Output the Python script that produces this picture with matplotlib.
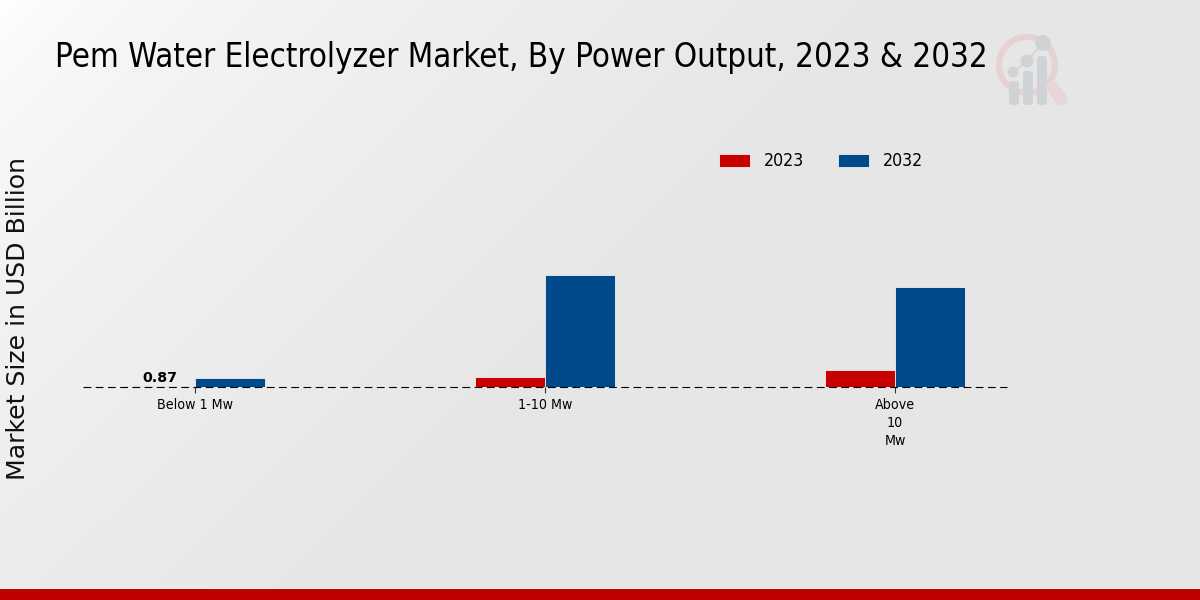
import matplotlib
matplotlib.use("Agg")
import matplotlib.pyplot as plt
import numpy as np
from matplotlib.patches import Circle, Rectangle, FancyBboxPatch

categories = ["Below 1 Mw", "1-10 Mw", "Above\n10\nMw"]
values_2023 = [0.87, 8.7, 14.8]
values_2032 = [7.8, 97.0, 87.0]
years = ["2023", "2032"]
COND = dict(family="DejaVu Sans", stretch="condensed")

fig = plt.figure(figsize=(12, 6), dpi=100)

# background gradient, white in the top left corner
bg = fig.add_axes([0, 0, 1, 1], zorder=0)
bg.set_xlim(0, 1200)
bg.set_ylim(600, 0)
bg.axis("off")
xx, yy = np.meshgrid(np.linspace(0, 1, 300), np.linspace(0, 1, 150))
d = np.clip((xx + yy * 0.5) / 0.75, 0, 1)
shade = 1.0 - 0.1 * d ** 0.55
bg.imshow(shade, cmap="gray", vmin=0, vmax=1, extent=[0, 1200, 600, 0], aspect="auto")
bg.add_patch(Rectangle((0, 589), 1200, 11, color="#bf0000", lw=0))
bg.add_patch(Rectangle((0, 588), 1200, 1, color="#f2f2f2", lw=0))

# logo
bg.add_patch(Circle((1027, 65), 28, fill=False, ec="#e6d2d3", lw=4.5))
bg.plot([1052, 1061], [87, 99], color="#e8d6d7", lw=9, solid_capstyle="round")
for bx, top in [(1014, 81), (1028, 71), (1042, 56)]:
    bg.add_patch(FancyBboxPatch((bx - 5, top), 10, 105 - top, boxstyle="round,pad=0,rounding_size=3",
                                fc="#d0d3d6", ec="none"))
bg.plot([1013, 1027, 1043], [72, 61, 43], color="#d0d3d6", lw=1)
bg.add_patch(Circle((1013, 72), 5.5, fc="#d0d3d6", ec="none"))
bg.add_patch(Circle((1027, 61), 6.5, fc="#d0d3d6", ec="none"))
bg.add_patch(Circle((1043, 43), 8, fc="#d0d3d6", ec="none"))

# plot area 83..1007 px, baseline at y=387
ax = fig.add_axes([83 / 1200, (600 - 387) / 600, 924 / 1200, 257 / 600], zorder=1)
ax.patch.set_alpha(0)
x = np.arange(len(categories))
w = 0.2
ax.bar(x - w / 2, values_2023, w, color="#c80000", edgecolor="#f0f0f0", linewidth=0.6, label=years[0])
ax.bar(x + w / 2, values_2032, w, color="#004a8c", edgecolor="#f0f0f0", linewidth=0.6, label=years[1])
ax.set_xlim(-0.32, 2.32)
ax.set_ylim(0, 222.6)
for s in ax.spines.values():
    s.set_visible(False)
ax.axhline(0, color="black", lw=0.8, ls=(0, (7, 4)), clip_on=False, zorder=5)
ax.set_yticks([])
ax.set_xticks(x)
ax.set_xticklabels(categories, fontsize=10.2, linespacing=1.36, **COND)
ax.tick_params(axis="x", length=4, width=0.8, pad=4, color="#333333")
ax.text(x[0] - w / 2, values_2023[0] + 0.6, "0.87", ha="center", va="bottom",
        fontsize=10.2, fontweight="bold")

leg = ax.legend(loc="upper left", bbox_to_anchor=(0.671, 0.975), ncol=2, frameon=False,
                prop=dict(size=12.7, **COND), handlelength=1.76, handleheight=0.74,
                columnspacing=1.9, handletextpad=0.8)

fig.text(55 / 1200, 1 - 57 / 600, "Pem Water Electrolyzer Market, By Power Output, 2023 & 2032",
         fontsize=23.7, va="center", ha="left", color="black", zorder=3, **COND)
fig.text(18 / 1200, 1 - 319 / 600, "Market Size in USD Billion", fontsize=18.1, rotation=90,
         va="center", ha="center", color="#111111", zorder=3)

fig.savefig("out.png", dpi=100)
